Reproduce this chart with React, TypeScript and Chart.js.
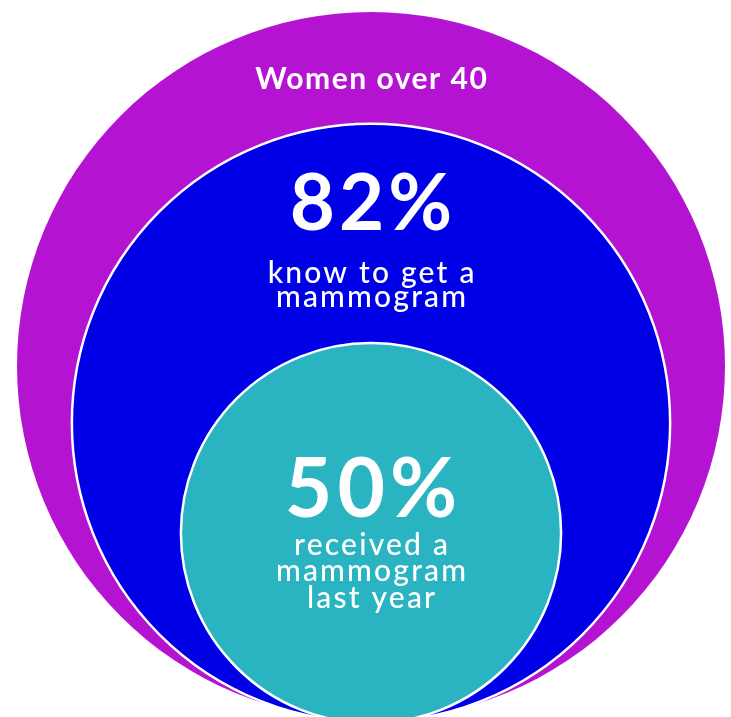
import React, { useEffect, useRef } from 'react';
import { Chart, registerables } from 'chart.js';

Chart.register(...registerables);

// Data
const groups = ['Women over 40', 'Know to get a mammogram', 'Received a mammogram last year'];
const percentValues = [100, 82, 50];
const headlineLabels = ['', '82%', '50%'];
const captionLines = [
  ['Women over 40'],
  ['know to get a', 'mammogram'],
  ['received a', 'mammogram', 'last year'],
];
// circle geometry in chart units (outer circle radius = 100)
const circleCenterX = [0, 0, 0];
const circleCenterY = [0, -16.1, -47.2];
const circleRadius = [100, 84.5, 53.7];
const circleColors = ['#B414D2', '#0000E6', '#2AB4C2'];
const circleBorders = [0, 2.5, 2.5];

// Text layout (px offsets from top of each circle)
const headlineOffset = [0, 106, 174];
const headlineFont = [0, 78, 82];
const headlineSpacing = [0, 4, 5];
const captionOffsets = [[77], [159, 183], [212, 238.5, 265]];
const captionFont = [30, 30, 30];
const captionSpacing = [1.5, 2.2, 2.2];
const captionWeight = ['bold', '500', '500'];

export default function App() {
  const ref = useRef<HTMLCanvasElement | null>(null);
  useEffect(() => {
    if (!ref.current) return;
    const W = 731;
    const H = 717;
    const unitPx = 3.54;
    const cxPx = 371;
    const cyPx = 366;
    const xMin = -cxPx / unitPx;
    const xMax = (W - cxPx) / unitPx;
    const yMin = -(H - cyPx) / unitPx;
    const yMax = cyPx / unitPx;
    const pxPerUnit = W / (xMax - xMin);

    const textPlugin = {
      id: 'circleText',
      afterDatasetsDraw(chart: any) {
        const ctx = chart.ctx as CanvasRenderingContext2D;
        const xs = chart.scales.x;
        const ys = chart.scales.y;
        ctx.save();
        ctx.fillStyle = '#ffffff';
        ctx.textAlign = 'center';
        ctx.textBaseline = 'alphabetic';
        for (let i = 0; i < groups.length; i++) {
          const cx = xs.getPixelForValue(circleCenterX[i]);
          const top = ys.getPixelForValue(circleCenterY[i] + circleRadius[i]);
          if (headlineLabels[i]) {
            (ctx as any).letterSpacing = `${headlineSpacing[i]}px`;
            ctx.font = `bold ${headlineFont[i]}px Lato, "Open Sans", sans-serif`;
            ctx.fillText(headlineLabels[i], cx + headlineSpacing[i] / 2, top + headlineOffset[i]);
          }
          (ctx as any).letterSpacing = `${captionSpacing[i]}px`;
          ctx.font = `${captionWeight[i]} ${captionFont[i]}px Lato, "Open Sans", sans-serif`;
          captionLines[i].forEach((line, j) => {
            ctx.fillText(line, cx + captionSpacing[i] / 2, top + captionOffsets[i][j]);
          });
        }
        ctx.restore();
      },
    };

    const chart = new Chart(ref.current, {
      type: 'bubble',
      data: {
        datasets: groups.map((g, i) => ({
          label: g,
          data: [{ x: circleCenterX[i], y: circleCenterY[i], r: circleRadius[i] * pxPerUnit }],
          backgroundColor: circleColors[i],
          borderColor: '#ffffff',
          borderWidth: circleBorders[i],
          hoverBorderWidth: circleBorders[i],
          order: groups.length - i,
        })),
      },
      options: {
        responsive: false,
        animation: false,
        events: [],
        layout: { padding: 0, autoPadding: false },
        plugins: { legend: { display: false }, tooltip: { enabled: false } },
        scales: {
          x: { type: 'linear', display: false, min: xMin, max: xMax },
          y: { type: 'linear', display: false, min: yMin, max: yMax },
        },
      },
      plugins: [textPlugin],
    } as any);
    return () => chart.destroy();
  }, []);
  return (
    <div style={{ position: 'fixed', left: 0, top: 0, width: 731, height: 717, background: '#fff' }}>
      <canvas ref={ref} width={731} height={717} style={{ display: 'block' }} />
    </div>
  );
}
